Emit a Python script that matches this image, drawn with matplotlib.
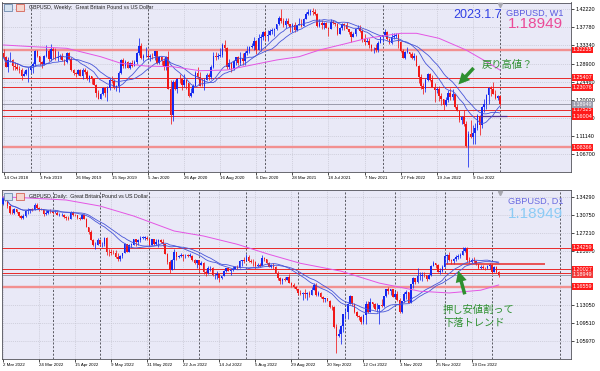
import numpy as np
import pandas as pd
import matplotlib
matplotlib.use("Agg")
import matplotlib.pyplot as plt
from matplotlib.patches import FancyArrowPatch, Rectangle

plt.rcParams['font.family'] = ['Liberation Sans', 'DejaVu Sans']

# ========== WEEKLY DATA: GBPUSD W1, week of 14 Oct 2018 .. week of 1 Jan 2023 ==========
w_first_open = 1.3150
w_close = [
    1.3040, 1.2815, 1.2970, 1.2970, 1.2830, 1.2810, 1.2760, 1.2740, 1.2585, 1.2640,
    1.2720, 1.2740, 1.2840, 1.2880, 1.3195, 1.3075, 1.2940, 1.2890, 1.3065, 1.3195,
    1.3000, 1.3250, 1.3210, 1.3035, 1.3050, 1.3085, 1.2970, 1.2930, 1.3150, 1.3005,
    1.2720, 1.2650, 1.2625, 1.2735, 1.2585, 1.2740, 1.2695, 1.2520, 1.2575, 1.2500,
    1.2375, 1.2165, 1.2030, 1.2140, 1.2290, 1.2160, 1.2290, 1.2475, 1.2465, 1.2290,
    1.2330, 1.2665, 1.2985, 1.2830, 1.2940, 1.2785, 1.2910, 1.2840, 1.2935, 1.3150,
    1.3325, 1.3015, 1.3080, 1.3085, 1.3060, 1.3075, 1.3070, 1.3195, 1.2895, 1.3045,
    1.2960, 1.2825, 1.3050, 1.2270, 1.1620, 1.2445, 1.2265, 1.2505, 1.2500, 1.2365,
    1.2490, 1.2405, 1.2095, 1.2165, 1.2340, 1.2665, 1.2565, 1.2350, 1.2335, 1.2485,
    1.2615, 1.2565, 1.2795, 1.3085, 1.3055, 1.3085, 1.3090, 1.3355, 1.3280, 1.2795,
    1.2915, 1.2750, 1.2945, 1.3045, 1.2915, 1.3035, 1.2945, 1.3155, 1.3190, 1.3285,
    1.3315, 1.3440, 1.3225, 1.3510, 1.3550, 1.3670, 1.3565, 1.3595, 1.3685, 1.3705,
    1.3730, 1.3850, 1.4015, 1.3930, 1.3835, 1.3935, 1.3865, 1.3790, 1.3830, 1.3710,
    1.3840, 1.3870, 1.3815, 1.3995, 1.4100, 1.4150, 1.4185, 1.4155, 1.4110, 1.3805,
    1.3875, 1.3825, 1.3880, 1.3760, 1.3745, 1.3905, 1.3880, 1.3865, 1.3620, 1.3760,
    1.3870, 1.3840, 1.3735, 1.3675, 1.3550, 1.3620, 1.3745, 1.3760, 1.3680, 1.3500,
    1.3415, 1.3455, 1.3335, 1.3265, 1.3265, 1.3235, 1.3405, 1.3530, 1.3590, 1.3675,
    1.3495, 1.3385, 1.3530, 1.3560, 1.3590, 1.3410, 1.3190, 1.3035, 1.3180, 1.3185,
    1.3115, 1.3035, 1.3065, 1.2840, 1.2570, 1.2335, 1.2260, 1.2485, 1.2625, 1.2490,
    1.2310, 1.2235, 1.2265, 1.2095, 1.2025, 1.1870, 1.2005, 1.2165, 1.2075, 1.2140,
    1.1830, 1.1735, 1.1510, 1.1590, 1.1415, 1.0860, 1.1165, 1.1090, 1.1175, 1.1300,
    1.1615, 1.1375, 1.1830, 1.1890, 1.2115, 1.2285, 1.2265, 1.2140, 1.2050, 1.2095,
    1.1895]
w_high = [
    1.3258, 1.3070, 1.3040, 1.3175, 1.3000, 1.2930, 1.2900, 1.2840, 1.2790, 1.2700,
    1.2750, 1.2815, 1.2865, 1.2930, 1.3220, 1.3215, 1.3085, 1.2950, 1.3110, 1.3350,
    1.3240, 1.3380, 1.3300, 1.3265, 1.3195, 1.3130, 1.3150, 1.3000, 1.3175, 1.3180,
    1.3040, 1.2750, 1.2690, 1.2760, 1.2765, 1.2780, 1.2785, 1.2725, 1.2600, 1.2585,
    1.2520, 1.2380, 1.2250, 1.2160, 1.2310, 1.2310, 1.2350, 1.2530, 1.2580, 1.2500,
    1.2370, 1.2710, 1.3010, 1.3015, 1.2975, 1.2950, 1.2925, 1.2985, 1.2975, 1.3180,
    1.3515, 1.3400, 1.3115, 1.3285, 1.3215, 1.3120, 1.3150, 1.3210, 1.3210, 1.3070,
    1.3070, 1.3015, 1.3065, 1.3200, 1.2485, 1.2485, 1.2485, 1.2545, 1.2645, 1.2510,
    1.2645, 1.2500, 1.2405, 1.2295, 1.2385, 1.2700, 1.2815, 1.2690, 1.2545, 1.2530,
    1.2665, 1.2670, 1.2855, 1.3170, 1.3185, 1.3145, 1.3265, 1.3395, 1.3480, 1.3285,
    1.3005, 1.2935, 1.2980, 1.3060, 1.3080, 1.3175, 1.3140, 1.3210, 1.3310, 1.3310,
    1.3400, 1.3540, 1.3480, 1.3625, 1.3625, 1.3680, 1.3705, 1.3710, 1.3745, 1.3760,
    1.3760, 1.3865, 1.4050, 1.4240, 1.4015, 1.4000, 1.4000, 1.3870, 1.3890, 1.3920,
    1.3845, 1.4010, 1.3985, 1.4005, 1.4165, 1.4235, 1.4220, 1.4250, 1.4220, 1.4135,
    1.3985, 1.3965, 1.3910, 1.3910, 1.3785, 1.3985, 1.3960, 1.3890, 1.3890, 1.3785,
    1.3895, 1.3890, 1.3910, 1.3750, 1.3700, 1.3675, 1.3770, 1.3835, 1.3830, 1.3750,
    1.3605, 1.3515, 1.3515, 1.3375, 1.3290, 1.3375, 1.3440, 1.3550, 1.3600, 1.3750,
    1.3685, 1.3525, 1.3645, 1.3645, 1.3645, 1.3640, 1.3440, 1.3245, 1.3210, 1.3300,
    1.3185, 1.3165, 1.3150, 1.3100, 1.2855, 1.2640, 1.2405, 1.2525, 1.2665, 1.2665,
    1.2600, 1.2405, 1.2325, 1.2330, 1.2165, 1.2030, 1.2065, 1.2245, 1.2295, 1.2275,
    1.2140, 1.1900, 1.1760, 1.1610, 1.1740, 1.1475, 1.1235, 1.1495, 1.1380, 1.1440,
    1.1645, 1.1620, 1.1855, 1.2030, 1.2155, 1.2310, 1.2345, 1.2445, 1.2245, 1.2125,
    1.2120]
w_low = [
    1.3000, 1.2800, 1.2695, 1.2920, 1.2725, 1.2720, 1.2720, 1.2660, 1.2477, 1.2580,
    1.2600, 1.2440, 1.2670, 1.2670, 1.2840, 1.3040, 1.2855, 1.2775, 1.2855, 1.3040,
    1.2960, 1.2945, 1.3000, 1.2980, 1.2960, 1.3000, 1.2965, 1.2865, 1.2905, 1.2970,
    1.2715, 1.2605, 1.2560, 1.2600, 1.2575, 1.2505, 1.2630, 1.2480, 1.2440, 1.2380,
    1.2370, 1.2080, 1.2015, 1.2015, 1.2120, 1.2070, 1.1960, 1.2250, 1.2410, 1.2270,
    1.2205, 1.2195, 1.2640, 1.2790, 1.2790, 1.2770, 1.2765, 1.2805, 1.2820, 1.2870,
    1.3105, 1.2995, 1.2955, 1.3055, 1.3015, 1.2960, 1.3010, 1.2975, 1.2870, 1.2870,
    1.2850, 1.2725, 1.2725, 1.2260, 1.1410, 1.1480, 1.2245, 1.2165, 1.2405, 1.2250,
    1.2325, 1.2265, 1.2075, 1.2075, 1.2160, 1.2330, 1.2500, 1.2335, 1.2330, 1.2250,
    1.2480, 1.2480, 1.2520, 1.2785, 1.2980, 1.3005, 1.3055, 1.3050, 1.3195, 1.2765,
    1.2765, 1.2675, 1.2735, 1.2855, 1.2865, 1.2865, 1.2855, 1.2855, 1.3105, 1.3155,
    1.3265, 1.3225, 1.3135, 1.3220, 1.3190, 1.3470, 1.3450, 1.3450, 1.3590, 1.3625,
    1.3565, 1.3715, 1.3845, 1.3890, 1.3780, 1.3775, 1.3835, 1.3670, 1.3670, 1.3670,
    1.3680, 1.3830, 1.3780, 1.3800, 1.3990, 1.4075, 1.4090, 1.4085, 1.4075, 1.3785,
    1.3790, 1.3730, 1.3730, 1.3755, 1.3570, 1.3740, 1.3860, 1.3805, 1.3600, 1.3605,
    1.3725, 1.3725, 1.3730, 1.3610, 1.3410, 1.3545, 1.3570, 1.3735, 1.3670, 1.3425,
    1.3355, 1.3410, 1.3280, 1.3195, 1.3160, 1.3175, 1.3175, 1.3385, 1.3430, 1.3560,
    1.3470, 1.3360, 1.3380, 1.3490, 1.3515, 1.3270, 1.3185, 1.3030, 1.3000, 1.3145,
    1.3050, 1.3000, 1.2975, 1.2830, 1.2410, 1.2275, 1.2155, 1.2190, 1.2470, 1.2460,
    1.2305, 1.1935, 1.2160, 1.1975, 1.1875, 1.1760, 1.1860, 1.1950, 1.2000, 1.2005,
    1.1800, 1.1720, 1.1445, 1.1405, 1.1350, 1.0840, 1.0350, 1.1055, 1.0925, 1.0925,
    1.1255, 1.1145, 1.1300, 1.1710, 1.1765, 1.1900, 1.2105, 1.2135, 1.2015, 1.1990,
    1.1840]
w_open = [w_first_open] + w_close[:-1]

w_dates = ['14 Oct 2018', '3 Feb 2019', '26 May 2019', '15 Sep 2019', '5 Jan 2020',
           '26 Apr 2020', '16 Aug 2020', '6 Dec 2020', '28 Mar 2021', '18 Jul 2021',
           '7 Nov 2021', '27 Feb 2022', '19 Jun 2022', '9 Oct 2022']
w_year_bars = [12, 64, 116, 168, 220]
w_price_ticks = [1.42220, 1.37780, 1.33340, 1.28900, 1.24460, 1.20020, 1.15580, 1.11140, 1.06700]

# long moving average (magenta): bar index / price
w_ma_long_idx = [0, 13, 28, 43, 52, 63, 75, 87, 99, 110, 121, 131, 140, 151, 161, 176, 183, 193, 205, 214, 220]
w_ma_long = [1.3346, 1.3304, 1.3265, 1.3059, 1.2897, 1.2830, 1.2813, 1.2715, 1.2732, 1.2855, 1.2978,
             1.3059, 1.3223, 1.3370, 1.3510, 1.3633, 1.3633, 1.3510, 1.3223, 1.2936, 1.2732]

w_levels_red = [1.25407, 1.23076, 1.17525, 1.16004]
w_levels_wide = [1.32235, 1.08366]
w_level_short = 1.16060
w_level_short_bars = [211, 223]

# ========== DAILY DATA: GBPUSD D1, 2 Mar 2022 .. 6 Jan 2023 ==========
d_first_open = 1.3290
d_close = [
    1.3405, 1.3365, 1.3255, 1.3110, 1.3105, 1.3180, 1.3125, 1.3040, 1.3015, 1.3050,
    1.3150, 1.3170, 1.3180, 1.3165, 1.3275, 1.3205, 1.3190, 1.3185, 1.3090, 1.3110,
    1.3150, 1.3140, 1.3110, 1.3115, 1.3070, 1.3070, 1.3070, 1.3035, 1.3005, 1.3000,
    1.3135, 1.3065, 1.3060, 1.3005, 1.2995, 1.3065, 1.3000, 1.2840, 1.2730, 1.2585,
    1.2475, 1.2480, 1.2570, 1.2490, 1.2495, 1.2625, 1.2350, 1.2335, 1.2330, 1.2320,
    1.2240, 1.2195, 1.2260, 1.2320, 1.2490, 1.2345, 1.2485, 1.2485, 1.2590, 1.2535,
    1.2575, 1.2620, 1.2625, 1.2625, 1.2600, 1.2480, 1.2590, 1.2490, 1.2535, 1.2585,
    1.2530, 1.2490, 1.2310, 1.2135, 1.1995, 1.2180, 1.2350, 1.2235, 1.2265, 1.2275,
    1.2255, 1.2270, 1.2265, 1.2270, 1.2190, 1.2120, 1.2175, 1.2095, 1.2125, 1.1940,
    1.1920, 1.2020, 1.2030, 1.1890, 1.1890, 1.1915, 1.1825, 1.1865, 1.1965, 1.2020,
    1.1970, 1.1995, 1.2005, 1.2050, 1.2030, 1.2165, 1.2175, 1.2165, 1.2240, 1.2165,
    1.2150, 1.2145, 1.2075, 1.2085, 1.2075, 1.2215, 1.2205, 1.2130, 1.2055, 1.2095,
    1.2040, 1.1935, 1.1830, 1.1765, 1.1815, 1.1800, 1.1840, 1.1735, 1.1690, 1.1645,
    1.1620, 1.1540, 1.1510, 1.1530, 1.1510, 1.1535, 1.1505, 1.1590, 1.1690, 1.1500,
    1.1540, 1.1465, 1.1415, 1.1435, 1.1385, 1.1265, 1.1255, 1.0860, 1.0685, 1.0735,
    1.0890, 1.1120, 1.1165, 1.1320, 1.1475, 1.1320, 1.1155, 1.1090, 1.1055, 1.0970,
    1.1105, 1.1320, 1.1170, 1.1355, 1.1315, 1.1215, 1.1220, 1.1300, 1.1285, 1.1475,
    1.1615, 1.1565, 1.1615, 1.1465, 1.1510, 1.1390, 1.1165, 1.1375, 1.1510, 1.1545,
    1.1345, 1.1705, 1.1830, 1.1755, 1.1860, 1.1860, 1.1895, 1.1890, 1.1820, 1.1890,
    1.2065, 1.2120, 1.2095, 1.1955, 1.1960, 1.2055, 1.2260, 1.2285, 1.2180, 1.2155,
    1.2200, 1.2245, 1.2265, 1.2275, 1.2370, 1.2420, 1.2180, 1.2140, 1.2180, 1.2155,
    1.2105, 1.2035, 1.2050, 1.2030, 1.2025, 1.2070, 1.2095, 1.1950, 1.2055, 1.1940,
    1.1895]
d_high = [
    1.3430, 1.3440, 1.3380, 1.3260, 1.3185, 1.3200, 1.3185, 1.3125, 1.3075, 1.3080,
    1.3170, 1.3210, 1.3185, 1.3200, 1.3300, 1.3300, 1.3225, 1.3215, 1.3185, 1.3175,
    1.3165, 1.3180, 1.3160, 1.3165, 1.3145, 1.3100, 1.3110, 1.3080, 1.3055, 1.3055,
    1.3150, 1.3150, 1.3085, 1.3060, 1.3030, 1.3090, 1.3090, 1.3010, 1.2840, 1.2770,
    1.2595, 1.2540, 1.2615, 1.2575, 1.2540, 1.2640, 1.2635, 1.2400, 1.2405, 1.2390,
    1.2390, 1.2325, 1.2290, 1.2330, 1.2525, 1.2495, 1.2495, 1.2525, 1.2600, 1.2600,
    1.2600, 1.2665, 1.2665, 1.2665, 1.2655, 1.2600, 1.2595, 1.2600, 1.2600, 1.2595,
    1.2600, 1.2590, 1.2505, 1.2320, 1.2180, 1.2205, 1.2405, 1.2350, 1.2290, 1.2325,
    1.2295, 1.2305, 1.2295, 1.2330, 1.2290, 1.2195, 1.2175, 1.2175, 1.2165, 1.2140,
    1.1990, 1.2060, 1.2065, 1.2040, 1.1935, 1.1965, 1.1915, 1.1875, 1.1990, 1.2030,
    1.2045, 1.2015, 1.2065, 1.2065, 1.2080, 1.2185, 1.2190, 1.2245, 1.2295, 1.2285,
    1.2195, 1.2205, 1.2160, 1.2130, 1.2120, 1.2275, 1.2250, 1.2210, 1.2135, 1.2110,
    1.2120, 1.2060, 1.1965, 1.1845, 1.1835, 1.1855, 1.1855, 1.1900, 1.1760, 1.1740,
    1.1675, 1.1620, 1.1595, 1.1550, 1.1615, 1.1555, 1.1565, 1.1650, 1.1735, 1.1740,
    1.1565, 1.1550, 1.1470, 1.1440, 1.1440, 1.1405, 1.1305, 1.1270, 1.0935, 1.0825,
    1.0900, 1.1125, 1.1235, 1.1330, 1.1495, 1.1480, 1.1345, 1.1175, 1.1105, 1.1080,
    1.1115, 1.1380, 1.1380, 1.1440, 1.1355, 1.1335, 1.1335, 1.1305, 1.1410, 1.1480,
    1.1620, 1.1645, 1.1620, 1.1620, 1.1575, 1.1565, 1.1445, 1.1380, 1.1545, 1.1590,
    1.1545, 1.1710, 1.1855, 1.1835, 1.2030, 1.1955, 1.1955, 1.1950, 1.1895, 1.1905,
    1.2085, 1.2155, 1.2125, 1.2100, 1.2030, 1.2085, 1.2310, 1.2310, 1.2345, 1.2210,
    1.2225, 1.2280, 1.2300, 1.2330, 1.2445, 1.2445, 1.2430, 1.2240, 1.2220, 1.2240,
    1.2160, 1.2110, 1.2080, 1.2080, 1.2045, 1.2085, 1.2125, 1.2110, 1.2075, 1.2060,
    1.1960]
d_low = [
    1.3275, 1.3335, 1.3215, 1.3085, 1.3085, 1.3095, 1.3105, 1.3035, 1.3000, 1.3000,
    1.3035, 1.3090, 1.3115, 1.3140, 1.3160, 1.3180, 1.3145, 1.3160, 1.3050, 1.3065,
    1.3090, 1.3115, 1.3095, 1.3100, 1.3065, 1.3045, 1.3050, 1.3010, 1.2975, 1.2975,
    1.2985, 1.3055, 1.3045, 1.2990, 1.2975, 1.2990, 1.2995, 1.2830, 1.2705, 1.2575,
    1.2460, 1.2410, 1.2470, 1.2455, 1.2440, 1.2465, 1.2275, 1.2260, 1.2290, 1.2300,
    1.2215, 1.2165, 1.2155, 1.2230, 1.2315, 1.2340, 1.2340, 1.2440, 1.2475, 1.2465,
    1.2470, 1.2545, 1.2600, 1.2585, 1.2570, 1.2460, 1.2475, 1.2485, 1.2485, 1.2430,
    1.2510, 1.2460, 1.2300, 1.2110, 1.1935, 1.1990, 1.2010, 1.2175, 1.2230, 1.2235,
    1.2160, 1.2215, 1.2245, 1.2250, 1.2160, 1.2105, 1.2030, 1.1975, 1.2085, 1.1900,
    1.1875, 1.1915, 1.1965, 1.1870, 1.1805, 1.1805, 1.1760, 1.1805, 1.1860, 1.1945,
    1.1960, 1.1895, 1.1975, 1.2000, 1.2000, 1.2020, 1.2065, 1.2130, 1.2160, 1.2150,
    1.2120, 1.2065, 1.2005, 1.2055, 1.2050, 1.2065, 1.2170, 1.2105, 1.2045, 1.2025,
    1.2015, 1.1920, 1.1800, 1.1715, 1.1720, 1.1780, 1.1790, 1.1725, 1.1650, 1.1630,
    1.1595, 1.1500, 1.1495, 1.1405, 1.1445, 1.1405, 1.1460, 1.1500, 1.1585, 1.1480,
    1.1480, 1.1435, 1.1350, 1.1355, 1.1380, 1.1235, 1.1210, 1.0840, 1.0350, 1.0660,
    1.0540, 1.0760, 1.1015, 1.1020, 1.1310, 1.1285, 1.1145, 1.1055, 1.0995, 1.0925,
    1.0930, 1.0925, 1.1145, 1.1165, 1.1255, 1.1195, 1.1170, 1.0935, 1.1255, 1.1255,
    1.1460, 1.1520, 1.1495, 1.1455, 1.1440, 1.1385, 1.1145, 1.1150, 1.1365, 1.1425,
    1.1335, 1.1330, 1.1640, 1.1710, 1.1725, 1.1800, 1.1765, 1.1850, 1.1765, 1.1805,
    1.1870, 1.2060, 1.2035, 1.1945, 1.1900, 1.1940, 1.2055, 1.2100, 1.2160, 1.2105,
    1.2110, 1.2170, 1.2205, 1.2215, 1.2275, 1.2345, 1.2135, 1.2130, 1.2125, 1.2120,
    1.2080, 1.2015, 1.2015, 1.2015, 1.1990, 1.2000, 1.2005, 1.1910, 1.1940, 1.1925,
    1.1840]
d_open = [d_first_open] + d_close[:-1]

d_dates = ['2 Mar 2022', '24 Mar 2022', '15 Apr 2022', '9 May 2022', '31 May 2022',
           '22 Jun 2022', '14 Jul 2022', '5 Aug 2022', '29 Aug 2022', '20 Sep 2022',
           '12 Oct 2022', '3 Nov 2022', '25 Nov 2022', '19 Dec 2022']
d_month_bars = [22, 43, 65, 87, 108, 131, 152, 174, 196, 217, 247]
d_price_ticks = [1.34290, 1.30750, 1.27210, 1.23670, 1.20130, 1.16590, 1.13050, 1.09510, 1.05970]
# tick labels that sit completely under a level box on the chart
d_hidden_ticks = [1.20130, 1.16590]

d_ma_long_idx = [0, 9, 28, 43, 58, 76, 89, 104, 118, 132, 150, 167, 185, 198, 212, 220]
d_ma_long = [1.3425, 1.3409, 1.3364, 1.3246, 1.3049, 1.2754, 1.2656, 1.2493, 1.2296, 1.2119,
             1.1965, 1.1730, 1.1570, 1.1536, 1.1590, 1.1693]

d_levels_red = [1.24259, 1.20027, 1.19250]
d_levels_wide = [1.16559]
d_level_short = 1.21060
d_level_short_bars = [196.5, 240.5]

last_price = 1.18949

# ========== STYLE ==========
W, H = 600, 371
BG = '#E9E9F7'
BULL = '#1428F0'
BEAR = '#F01818'
MA_BLUE = '#4755D8'
MA_PINK = '#E455E4'
RED = '#E82828'
WIDE_RED = '#F29090'
GRAY = '#9A9AAA'
GREEN = '#2E9030'


def fx(x):
    return x / W


def fy(y):
    return 1 - y / H


def candles(ax, o, h, l, c):
    o, h, l, c = map(np.asarray, (o, h, l, c))
    x = np.arange(len(c))
    col = np.where(c >= o, BULL, BEAR)
    lo = np.minimum(l, np.minimum(o, c))
    hi = np.maximum(h, np.maximum(o, c))
    ax.vlines(x, lo, hi, colors=col, lw=0.55, zorder=3)
    body = np.maximum(np.abs(c - o), 0.0008)
    ax.bar(x, body, bottom=np.minimum(o, c), width=0.72, color=col, lw=0, zorder=4)


def setup(ax, xlim, ylim, xticks, xlabels, yticks, seps, hidden=()):
    ax.set_facecolor(BG)
    ax.set_xlim(*xlim)
    ax.set_ylim(*ylim)
    ax.yaxis.tick_right()
    ax.set_yticks(yticks)
    ax.set_yticklabels(['' if t in hidden else f'{t:.5f}' for t in yticks], fontsize=3.9)
    ax.set_xticks(xticks)
    ax.set_xticklabels(xlabels, fontsize=3.2, ha='left')
    ax.tick_params(axis='y', length=2.5, width=0.5, pad=1)
    ax.tick_params(axis='x', length=2, width=0.5, pad=1)
    ax.grid(True, color='#C6C6D2', ls=(0, (1.5, 1.5)), lw=0.5, zorder=0)
    ax.set_axisbelow(True)
    for s in ax.spines.values():
        s.set_color('#505058')
        s.set_linewidth(0.6)
    for b in seps:
        ax.axvline(b, color='#45454D', ls=(0, (2.5, 2)), lw=0.6, zorder=1)


def level_box(ax, price, fc):
    ax.text(1.0 + 1.5 / 569, price, f'{price:.5f}', transform=ax.get_yaxis_transform(),
            ha='left', va='center', fontsize=3.9, color='white', zorder=10,
            bbox=dict(boxstyle='square,pad=0.18', fc=fc, ec='none'))


fig = plt.figure(figsize=(6, 3.71), dpi=100)
ax1 = fig.add_axes([fx(2), fy(172), (571 - 2) / W, (172 - 2.5) / H])
ax2 = fig.add_axes([fx(2), fy(359), (571 - 2) / W, (359 - 190) / H])

# ========== TOP: WEEKLY ==========
setup(ax1, (-0.7, 251.5), (1.02287, 1.43889), list(range(0, 209, 16)), w_dates,
      w_price_ticks, w_year_bars)
for lv in w_levels_wide:
    ax1.axhline(lv, color=WIDE_RED, lw=1.7, zorder=2)
for lv in w_levels_red:
    ax1.axhline(lv, color=RED, lw=0.7, zorder=2)
ax1.axhline(last_price, color=GRAY, lw=0.7, zorder=2)
ax1.hlines(w_level_short, *w_level_short_bars, color='#5B2A86', lw=0.9, zorder=5)

wc = pd.Series(w_close)
ax1.plot(wc.rolling(13, min_periods=1).mean(), color=MA_BLUE, lw=0.6, zorder=5)
ax1.plot(wc.rolling(21, min_periods=1).mean(), color=MA_BLUE, lw=0.6, zorder=5)
ax1.plot(w_ma_long_idx, w_ma_long, color=MA_PINK, lw=0.7, zorder=5)
candles(ax1, w_open, w_high, w_low, w_close)

for lv in sorted(w_levels_wide + w_levels_red, reverse=True):
    level_box(ax1, lv, '#FF1A1A')
level_box(ax1, last_price, '#9C9CAC')

ax1.plot([220], [0.985], marker='v', ms=3, color='#A8A8B0',
         transform=ax1.get_xaxis_transform(), clip_on=False, zorder=6)

# ========== BOTTOM: DAILY ==========
setup(ax2, (-0.44, 252.1), (1.02371, 1.35608), list(range(0, 209, 16)), d_dates,
      d_price_ticks, d_month_bars, d_hidden_ticks)
for lv in d_levels_wide:
    ax2.axhline(lv, color=WIDE_RED, lw=1.7, zorder=2)
for lv in d_levels_red:
    ax2.axhline(lv, color=RED, lw=0.7, zorder=2)
ax2.axhline(last_price, color=GRAY, lw=0.7, zorder=2)
ax2.hlines(d_level_short, *d_level_short_bars, color=RED, lw=1.1, zorder=5)

dc = pd.Series(d_close)
ax2.plot(dc.rolling(20, min_periods=1).mean(), color=MA_BLUE, lw=0.6, zorder=5)
ax2.plot(dc.rolling(25, min_periods=1).mean(), color=MA_BLUE, lw=0.6, zorder=5)
ax2.plot(d_ma_long_idx, d_ma_long, color=MA_PINK, lw=0.7, zorder=5)
candles(ax2, d_open, d_high, d_low, d_close)

for lv in [1.24259, 1.20027]:
    level_box(ax2, lv, '#FF1A1A')
level_box(ax2, last_price, '#F23A3A')
for lv in d_levels_wide:
    level_box(ax2, lv, '#FF1A1A')

ax2.plot([220.5], [0.985], marker='v', ms=3, color='#A8A8B0',
         transform=ax2.get_xaxis_transform(), clip_on=False, zorder=6)

# ========== HEADERS / ICONS ==========
for top in (3.5, 192.5):
    fig.add_artist(Rectangle((fx(4), fy(top + 7)), 8 / W, 7 / H, transform=fig.transFigure,
                             fc='#D5E2F0', ec='#5878A0', lw=0.5))
    fig.add_artist(Rectangle((fx(16), fy(top + 7)), 8 / W, 7 / H, transform=fig.transFigure,
                             fc='#F6D6CE', ec='#D04A3A', lw=0.5))
fig.text(fx(29), fy(7.5), 'GBPUSD, Weekly:  Great Britain Pound vs US Dollar',
         fontsize=3.8, va='center', ha='left', color='#202020')
fig.text(fx(29), fy(196.8), 'GBPUSD, Daily:  Great Britain Pound vs US Dollar',
         fontsize=3.8, va='center', ha='left', color='#202020')

fig.text(fx(453), fy(14.7), '2023.1.7', fontsize=9.0, color='#3040E4', ha='left', va='center')
fig.text(fx(563), fy(13), 'GBPUSD, W1', fontsize=6.6, color='#5A5AE0', ha='right', va='center')
fig.text(fx(563), fy(24.2), '1.18949', fontsize=11, color='#EB4A98', ha='right', va='center')
fig.text(fx(563), fy(201), 'GBPUSD, D1', fontsize=6.6, color='#6A6AE0', ha='right', va='center')
fig.text(fx(563), fy(214.3), '1.18949', fontsize=11, color='#8CCBF5', ha='right', va='center')

# ========== ANNOTATIONS ==========
jp = ['Noto Sans CJK JP', 'DejaVu Sans']
fig.text(fx(481.5), fy(64.7), '戻り高値？', fontsize=7.4, color=GREEN, family=jp,
         ha='left', va='center')
fig.text(fx(443), fy(310), '押し安値割って', fontsize=7.4, color=GREEN, family=jp,
         ha='left', va='center')
fig.text(fx(443), fy(323.3), '下落トレンド', fontsize=7.4, color=GREEN, family=jp,
         ha='left', va='center')

arrow_style = 'simple,head_length=0.9,head_width=0.9,tail_width=0.28'
fig.add_artist(FancyArrowPatch((fx(475.5), fy(66)), (fx(456.5), fy(86.5)),
                               transform=fig.transFigure, arrowstyle=arrow_style,
                               mutation_scale=9, color=GREEN, lw=0))
fig.add_artist(FancyArrowPatch((fx(465.5), fy(297)), (fx(457.5), fy(268)),
                               transform=fig.transFigure, arrowstyle=arrow_style,
                               mutation_scale=9, color=GREEN, lw=0))

fig.savefig('out.png', dpi=100, facecolor='white')
